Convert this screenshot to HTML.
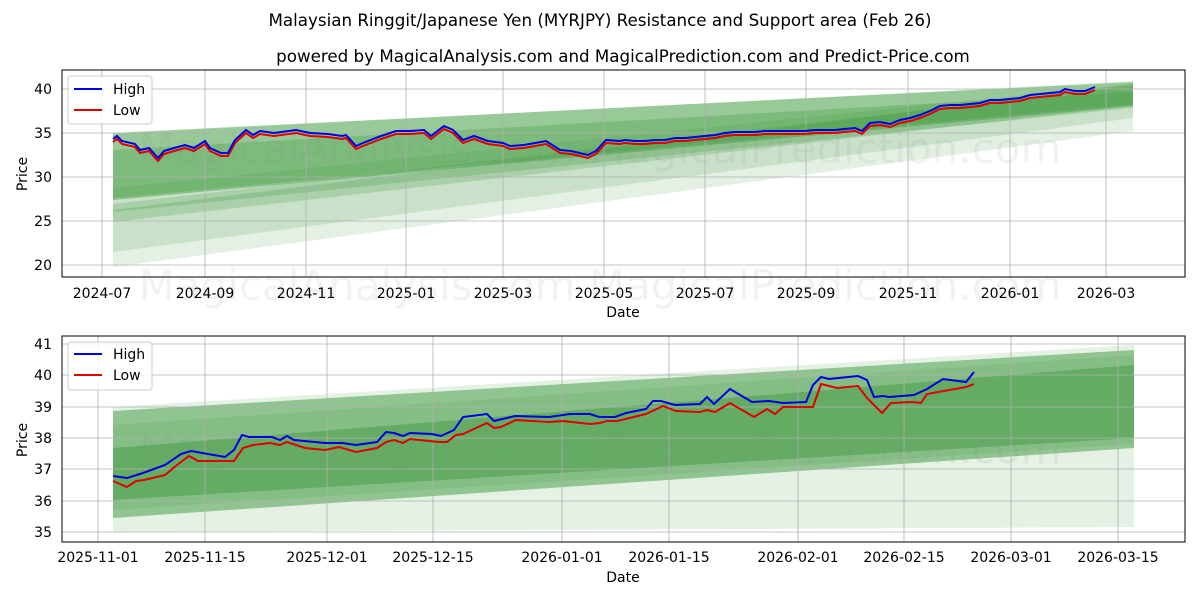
<!DOCTYPE html>
<html><head><meta charset="utf-8"><style>
body{margin:0;background:#fff}
svg text{font-family:"DejaVu Sans","Liberation Sans",sans-serif;fill:#000}
</style></head><body>
<svg width="1200" height="600" viewBox="0 0 1200 600" xmlns="http://www.w3.org/2000/svg">
<text x="600" y="26" font-size="16.7" text-anchor="middle">Malaysian Ringgit/Japanese Yen (MYRJPY) Resistance and Support area (Feb 26)</text>
<text x="623" y="62" font-size="16.7" text-anchor="middle">powered by MagicalAnalysis.com and MagicalPrediction.com and Predict-Price.com</text>

<!-- TOP -->
<g>
<polygon points="113,267 1133,131 1133,81 113,134" fill="#2e8b2e" opacity="0.13"/>
<polygon points="113,252 1133,118 1133,84 113,188" fill="#2e8b2e" opacity="0.15"/>
<polygon points="113,222 1133,106 1133,84 113,210" fill="#2e8b2e" opacity="0.2"/>
<polygon points="113,212 1133,108 1133,86 113,204" fill="#2e8b2e" opacity="0.2"/>
<polygon points="113,200 1133,106 1133,82 113,133" fill="#3c9a3c" opacity="0.45"/>
<polygon points="113,198 1133,104 1133,92 113,150" fill="#3c9a3c" opacity="0.3"/>
<g stroke="#b0b0b0" stroke-width="0.8">
<line x1="102" y1="70" x2="102" y2="277"/><line x1="205" y1="70" x2="205" y2="277"/><line x1="306" y1="70" x2="306" y2="277"/><line x1="406" y1="70" x2="406" y2="277"/><line x1="503" y1="70" x2="503" y2="277"/><line x1="604" y1="70" x2="604" y2="277"/><line x1="705" y1="70" x2="705" y2="277"/><line x1="806" y1="70" x2="806" y2="277"/><line x1="908" y1="70" x2="908" y2="277"/><line x1="1010" y1="70" x2="1010" y2="277"/><line x1="1106" y1="70" x2="1106" y2="277"/>
<line x1="62" y1="89" x2="1185" y2="89"/><line x1="62" y1="133" x2="1185" y2="133"/><line x1="62" y1="177" x2="1185" y2="177"/><line x1="62" y1="221" x2="1185" y2="221"/><line x1="62" y1="265" x2="1185" y2="265"/>
</g>
<text x="600" y="163" font-size="42" text-anchor="middle" style="fill:#888" opacity="0.1">MagicalAnalysis.com    MagicalPrediction.com</text>
<text x="600" y="300" font-size="42" text-anchor="middle" style="fill:#888" opacity="0.1">MagicalAnalysis.com    MagicalPrediction.com</text>
<polyline fill="none" stroke="#e00000" stroke-width="2" points="113,142 117,139 122,144 135,147 140,153 149,151 158,161 164,154 174,151 185,148 194,151 205,144 210,151 221,156 228,156 235,143 246,133 253,138 260,134 274,136 296,133 310,136 328,137 342,139 346,138 356,149 363,146 381,139 396,134 410,134 424,133 431,139 444,129 453,133 463,143 474,139 488,144 503,146 510,149 524,148 546,144 560,153 571,154 588,158 596,154 606,143 620,144 625,143 635,144 645,144 655,143 665,143 675,141 685,141 695,140 705,139 715,138 725,136 735,135 745,135 755,135 765,134 775,134 785,134 795,134 805,134 815,133 825,133 835,133 845,132 855,131 862,134 870,126 880,125 890,127 900,123 910,121 920,118 930,114 940,109 950,108 960,108 970,107 980,106 990,103 1000,103 1010,102 1020,101 1030,98 1040,97 1050,96 1060,95 1065,92 1075,94 1085,94 1095,90"/>
<polyline fill="none" stroke="#0000e0" stroke-width="2" points="113,139 117,136 122,141 135,144 140,150 149,148 158,158 164,151 174,148 185,145 194,148 205,141 210,148 221,153 228,153 235,140 246,130 253,135 260,131 274,133 296,130 310,133 328,134 342,136 346,135 356,146 363,143 381,136 396,131 410,131 424,130 431,136 444,126 453,130 463,140 474,136 488,141 503,143 510,146 524,145 546,141 560,150 571,151 588,155 596,151 606,140 620,141 625,140 635,141 645,141 655,140 665,140 675,138 685,138 695,137 705,136 715,135 725,133 735,132 745,132 755,132 765,131 775,131 785,131 795,131 805,131 815,130 825,130 835,130 845,129 855,128 862,131 870,123 880,122 890,124 900,120 910,118 920,115 930,111 940,106 950,105 960,105 970,104 980,103 990,100 1000,100 1010,99 1020,98 1030,95 1040,94 1050,93 1060,92 1065,89 1075,91 1085,91 1095,87"/>
<rect x="62" y="70" width="1123" height="207" fill="none" stroke="#000" stroke-width="1"/>
<g font-size="14" text-anchor="end">
<text x="52" y="94">40</text><text x="52" y="138">35</text><text x="52" y="182">30</text><text x="52" y="226">25</text><text x="52" y="270">20</text></g>
<g font-size="14" text-anchor="middle">
<text x="102" y="298">2024-07</text><text x="205" y="298">2024-09</text><text x="306" y="298">2024-11</text><text x="406" y="298">2025-01</text><text x="503" y="298">2025-03</text><text x="604" y="298">2025-05</text><text x="705" y="298">2025-07</text><text x="806" y="298">2025-09</text><text x="908" y="298">2025-11</text><text x="1010" y="298">2026-01</text><text x="1106" y="298">2026-03</text></g>
<text x="623" y="317" font-size="14" text-anchor="middle">Date</text>
<text x="27" y="174" font-size="14" text-anchor="middle" transform="rotate(-90 27 174)">Price</text>
<rect x="68" y="76" width="84" height="48" rx="3" fill="#fff" fill-opacity="0.8" stroke="#ccc"/>
<line x1="74" y1="89" x2="102" y2="89" stroke="#0000e0" stroke-width="2"/><text x="113" y="94" font-size="14">High</text>
<line x1="74" y1="110" x2="102" y2="110" stroke="#e00000" stroke-width="2"/><text x="113" y="115" font-size="14">Low</text>
</g>

<!-- BOTTOM -->
<g>
<polygon points="113,407 1134,345 1134,527 113,532" fill="#5aa85a" opacity="0.16"/>
<polygon points="113,411 1134,350 1134,448 113,518" fill="#4a9f4a" opacity="0.55"/>
<polygon points="113,425 1134,355 1134,444 113,510" fill="#4a9f4a" opacity="0.15"/>
<polygon points="113,448 1134,365 1134,438 113,500" fill="#3c963c" opacity="0.45"/>
<g stroke="#b0b0b0" stroke-width="0.8">
<line x1="98" y1="336" x2="98" y2="542"/><line x1="205" y1="336" x2="205" y2="542"/><line x1="327" y1="336" x2="327" y2="542"/><line x1="433" y1="336" x2="433" y2="542"/><line x1="562" y1="336" x2="562" y2="542"/><line x1="669" y1="336" x2="669" y2="542"/><line x1="798" y1="336" x2="798" y2="542"/><line x1="904" y1="336" x2="904" y2="542"/><line x1="1011" y1="336" x2="1011" y2="542"/><line x1="1118" y1="336" x2="1118" y2="542"/>
<line x1="62" y1="344" x2="1185" y2="344"/><line x1="62" y1="375" x2="1185" y2="375"/><line x1="62" y1="407" x2="1185" y2="407"/><line x1="62" y1="438" x2="1185" y2="438"/><line x1="62" y1="469" x2="1185" y2="469"/><line x1="62" y1="501" x2="1185" y2="501"/><line x1="62" y1="532" x2="1185" y2="532"/>
</g>
<text x="600" y="463" font-size="42" text-anchor="middle" style="fill:#888" opacity="0.1">MagicalAnalysis.com    MagicalPrediction.com</text>
<polyline fill="none" stroke="#e00000" stroke-width="2" points="113,481 127,487 136,481 144,480 165,475 177,465 189,456 198,461 234,461 243,448 253,445 270,443 280,445 287,442 305,448 325,450 339,447 356,452 377,448 386,442 394,440 403,443 410,439 439,442 447,442 456,435 463,434 487,423 494,428 501,427 516,420 549,422 563,421 590,424 600,423 607,421 617,421 646,414 663,406 676,411 700,412 707,410 715,412 730,403 754,417 767,409 775,414 783,407 806,407 813,407 821,384 837,388 858,386 867,398 882,413 891,403 912,402 921,403 927,394 966,387 974,384"/>
<polyline fill="none" stroke="#0000e0" stroke-width="2" points="113,476 127,478 143,473 165,465 181,454 191,451 208,454 225,457 234,450 242,435 249,437 272,437 280,440 287,436 294,440 325,443 342,443 356,445 377,442 386,432 394,433 403,436 410,433 432,434 441,436 454,430 463,417 487,414 494,421 515,416 549,417 570,414 590,414 599,417 615,417 626,413 646,409 653,401 661,401 675,405 700,404 707,397 714,404 730,389 752,402 769,401 783,403 806,402 813,385 821,377 829,379 858,376 867,380 874,397 883,396 889,397 914,395 927,389 943,379 966,382 974,372"/>
<rect x="62" y="336" width="1123" height="206" fill="none" stroke="#000" stroke-width="1"/>
<g font-size="14" text-anchor="end">
<text x="52" y="349">41</text><text x="52" y="380">40</text><text x="52" y="412">39</text><text x="52" y="443">38</text><text x="52" y="474">37</text><text x="52" y="506">36</text><text x="52" y="537">35</text></g>
<g font-size="14" text-anchor="middle">
<text x="98" y="562">2025-11-01</text><text x="205" y="562">2025-11-15</text><text x="327" y="562">2025-12-01</text><text x="433" y="562">2025-12-15</text><text x="562" y="562">2026-01-01</text><text x="669" y="562">2026-01-15</text><text x="798" y="562">2026-02-01</text><text x="904" y="562">2026-02-15</text><text x="1011" y="562">2026-03-01</text><text x="1118" y="562">2026-03-15</text></g>
<text x="623" y="582" font-size="14" text-anchor="middle">Date</text>
<text x="27" y="440" font-size="14" text-anchor="middle" transform="rotate(-90 27 440)">Price</text>
<rect x="68" y="342" width="84" height="48" rx="3" fill="#fff" fill-opacity="0.8" stroke="#ccc"/>
<line x1="74" y1="354" x2="102" y2="354" stroke="#0000e0" stroke-width="2"/><text x="113" y="359" font-size="14">High</text>
<line x1="74" y1="375" x2="102" y2="375" stroke="#e00000" stroke-width="2"/><text x="113" y="380" font-size="14">Low</text>
</g>
</svg>
</body></html>
